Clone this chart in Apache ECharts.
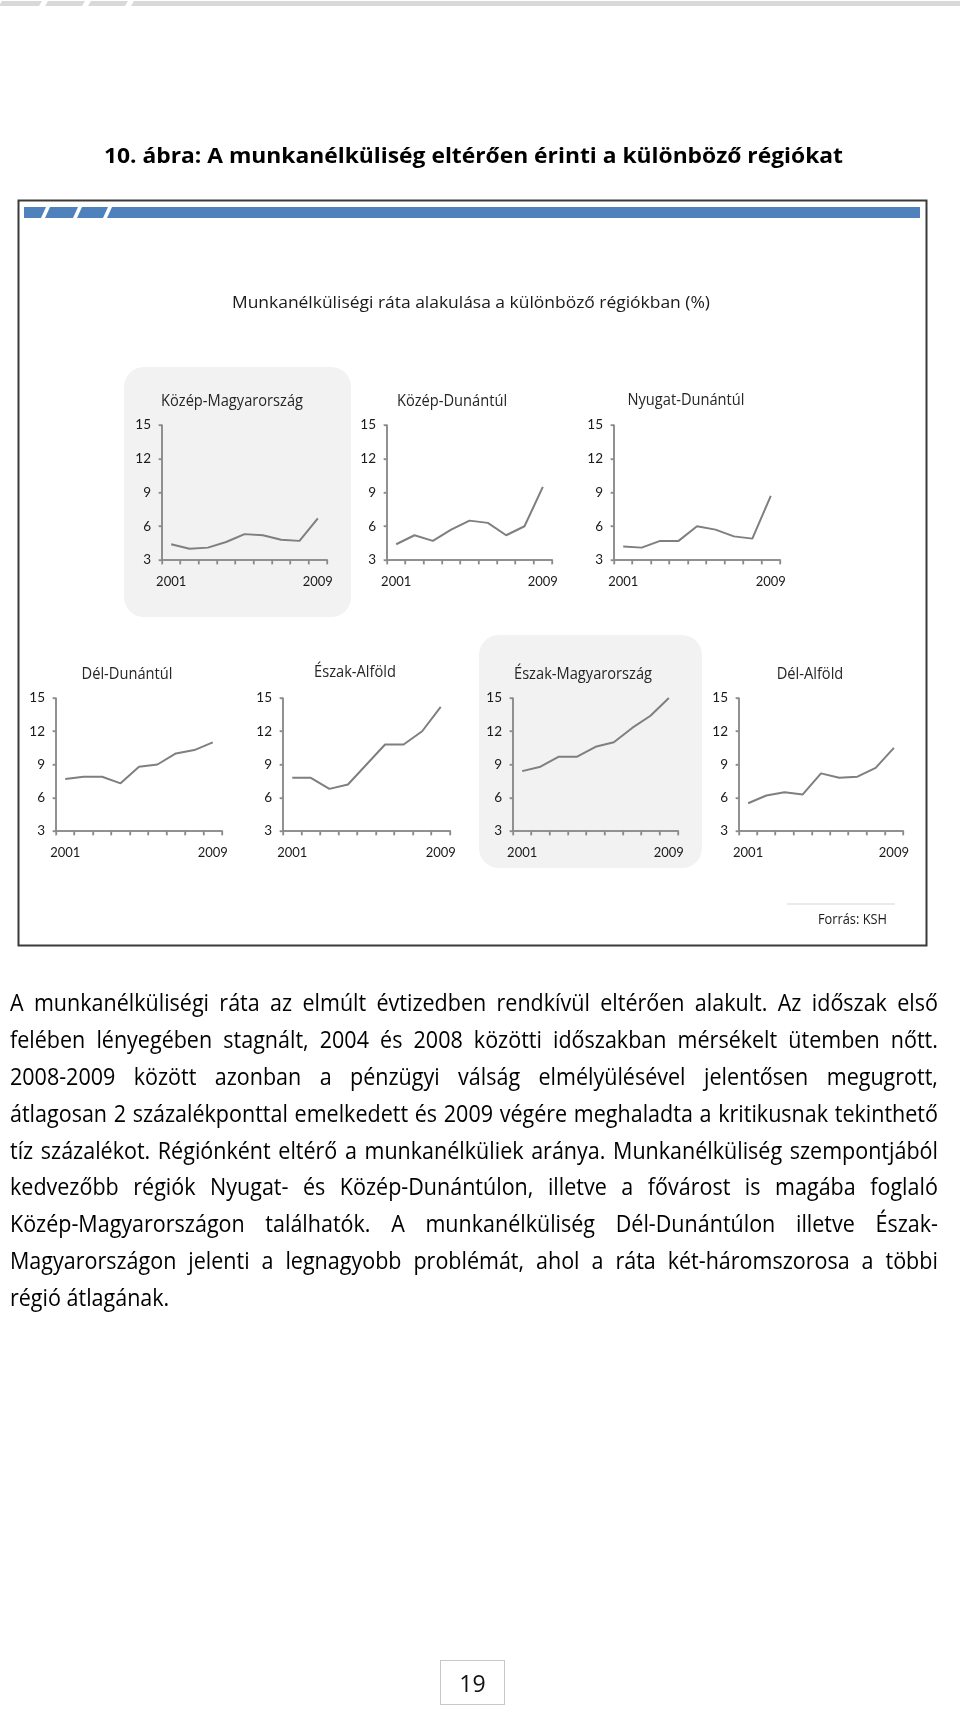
<!DOCTYPE html>
<html><head><meta charset="utf-8">
<script src="https://cdn.jsdelivr.net/npm/echarts@6/dist/echarts.min.js"></script>
<style>
html,body{margin:0;padding:0;background:#fff;}
#page{position:relative;width:960px;height:1712px;overflow:hidden;font-family:"Open Sans",Lato,sans-serif;color:#000;}
#bg,#chart{position:absolute;left:0;top:0;width:960px;height:1712px;}
#bg{z-index:0;} #chart{z-index:1;}
#title{position:absolute;z-index:2;left:104px;top:139px;font-weight:bold;font-size:22px;line-height:30px;color:#000;white-space:nowrap;transform-origin:0 0;}
#para{position:absolute;z-index:2;left:10px;width:928px;top:984px;}
.line{height:36.9px;line-height:36.9px;font-size:24px;white-space:nowrap;color:#000;}
.inner{display:flex;justify-content:space-between;transform-origin:0 0;}
.plain{display:inline-block;transform-origin:0 0;}
#pnum{position:absolute;z-index:2;left:440px;top:1660px;width:63px;height:43px;border:1.5px solid #c8c8c8;text-align:center;line-height:44px;font-size:23px;color:#111;font-family:"Open Sans",sans-serif;}
</style></head>
<body><div id="page">
<div id="bg"></div>
<div id="chart"></div>
<div id="title">10. ábra: A munkanélküliség eltérően érinti a különböző régiókat</div>
<div id="para"></div>
<div id="pnum">19</div>
</div>
<script>
// ---- data ----
const years = ['2001','2002','2003','2004','2005','2006','2007','2008','2009'];
const shownYears = ['2001','2009'];
const regions = ['Közép-Magyarország','Közép-Dunántúl','Nyugat-Dunántúl','Dél-Dunántúl','Észak-Alföld','Észak-Magyarország','Dél-Alföld'];
const kozepMagyarorszag = [4.4, 4.0, 4.1, 4.6, 5.3, 5.2, 4.8, 4.7, 6.7];
const kozepDunantul     = [4.4, 5.2, 4.7, 5.7, 6.5, 6.3, 5.2, 6.0, 9.5];
const nyugatDunantul    = [4.2, 4.1, 4.7, 4.7, 6.0, 5.7, 5.1, 4.9, 8.7];
const delDunantul       = [7.7, 7.9, 7.9, 7.3, 8.8, 9.0, 10.0, 10.3, 11.0];
const eszakAlfold       = [7.8, 7.8, 6.8, 7.2, 9.0, 10.8, 10.8, 12.0, 14.2];
const eszakMagyarorszag = [8.4, 8.8, 9.7, 9.7, 10.6, 11.0, 12.3, 13.4, 15.0];
const delAlfold         = [5.5, 6.2, 6.5, 6.3, 8.2, 7.8, 7.9, 8.7, 10.5];
const yMin = 3, yMax = 15, yStep = 3;
const chartTitle = 'Munkanélküliségi ráta alakulása a különböző régiókban (%)';
const sourceText = 'Forrás: KSH';
const paragraphLines = [
 'A munkanélküliségi ráta az elmúlt évtizedben rendkívül eltérően alakult. Az időszak első',
 'felében lényegében stagnált, 2004 és 2008 közötti időszakban mérsékelt ütemben nőtt.',
 '2008-2009 között azonban a pénzügyi válság elmélyülésével jelentősen megugrott,',
 'átlagosan 2 százalékponttal emelkedett és 2009 végére meghaladta a kritikusnak tekinthető',
 'tíz százalékot. Régiónként eltérő a munkanélküliek aránya. Munkanélküliség szempontjából',
 'kedvezőbb régiók Nyugat- és Közép-Dunántúlon, illetve a fővárost is magába foglaló',
 'Közép-Magyarországon találhatók. A munkanélküliség Dél-Dunántúlon illetve Észak-',
 'Magyarországon jelenti a legnagyobb problémát, ahol a ráta két-háromszorosa a többi',
 'régió átlagának.'
];
const seriesValues = [kozepMagyarorszag, kozepDunantul, nyugatDunantul, delDunantul, eszakAlfold, eszakMagyarorszag, delAlfold];

// ---- layout ----
const gridBoxes = [[162,425,165,135],[387,425,165,135],[614,425,166,135],
                   [56,698,166,133],[283,698,167,133],[513,698,165,133],[739,698,164,133]];
const titlePos = [[232,401],[452,401],[686,400],[127,674],[355,672],[583,674],[810,674]];
const FONT = '"Open Sans", Lato, sans-serif';
const AXFONT = 'Lato, "Open Sans", sans-serif';
const AXCOLOR = '#8a8a8a';

// page title: squeeze to reference width
const tEl = document.getElementById('title');
const tW = tEl.getBoundingClientRect().width;
tEl.style.transform = 'scaleX(' + (739 / tW) + ')';

// paragraph with horizontal squeeze + justification
const para = document.getElementById('para');
const meas = document.createElement('span');
meas.style.cssText = 'position:absolute;visibility:hidden;white-space:nowrap;font-size:24px;font-family:' + FONT;
document.body.appendChild(meas);
let maxW = 0;
paragraphLines.forEach(ln => { meas.textContent = ln; maxW = Math.max(maxW, meas.getBoundingClientRect().width); });
const k = 926 / (maxW * 1.01);
paragraphLines.forEach((ln, i) => {
  const d = document.createElement('div');
  d.className = 'line';
  const inner = document.createElement('div');
  if (i === paragraphLines.length - 1) {
    inner.className = 'plain';
    inner.textContent = ln;
  } else {
    inner.className = 'inner';
    inner.style.width = (928 / k) + 'px';
    ln.split(' ').forEach(w => { const s = document.createElement('span'); s.textContent = w; inner.appendChild(s); });
  }
  inner.style.transform = 'scaleX(' + k + ')';
  d.appendChild(inner);
  para.appendChild(d);
});

// text measurement for chart texts
const ctx = document.createElement('canvas').getContext('2d');
function textW(t, font) { ctx.font = font; return ctx.measureText(t).width; }
const subK = 478 / textW(chartTitle, '16px ' + FONT);
const panelK = 142 / textW(regions[0], '16px ' + FONT);

// ---- charts ----
const chart = echarts.init(document.getElementById('chart'), null, {renderer:'canvas'});
const grid = [], xAxis = [], yAxis = [], series = [];
gridBoxes.forEach((b, i) => {
  grid.push({left:b[0], top:b[1], width:b[2], height:b[3]});
  xAxis.push({type:'category', gridIndex:i, data:years, boundaryGap:true,
    axisLine:{show:true, onZero:false, lineStyle:{color:AXCOLOR, width:1.5}},
    axisTick:{show:true, interval:0, length:4, lineStyle:{color:AXCOLOR, width:1.3}},
    axisLabel:{interval:0, margin:15, fontSize:13, fontFamily:AXFONT, color:'#1a1a1a',
      formatter: v => shownYears.indexOf(v) >= 0 ? v : ''},
    splitLine:{show:false}});
  yAxis.push({type:'value', gridIndex:i, min:yMin, max:yMax, interval:yStep,
    axisLine:{show:true, onZero:false, lineStyle:{color:AXCOLOR, width:1.5}},
    axisTick:{show:true, length:3, lineStyle:{color:AXCOLOR, width:1.3}},
    axisLabel:{margin:11, fontSize:13.5, fontFamily:AXFONT, color:'#1a1a1a'},
    splitLine:{show:false}});
  series.push({type:'line', name:regions[i], xAxisIndex:i, yAxisIndex:i, data:seriesValues[i],
    symbol:'none', lineStyle:{color:'#7f7f7f', width:2}, silent:true, animation:false, z:5});
});

const graphics = [];
graphics.push({type:'text', x:471, y:303, scaleX:subK, style:{text:chartTitle, align:'center', verticalAlign:'middle', font:'16px ' + FONT, fill:'#1a1a1a'}});
regions.forEach((r, i) => {
  graphics.push({type:'text', x:titlePos[i][0], y:titlePos[i][1], scaleX:panelK, style:{text:r, align:'center', verticalAlign:'middle', font:'16px ' + FONT, fill:'#262626'}});
});
graphics.push({type:'text', x:887, y:920, scaleX:panelK, style:{text:sourceText, align:'right', verticalAlign:'middle', font:'14px ' + FONT, fill:'#1a1a1a'}});

chart.setOption({animation:false, backgroundColor:'transparent', grid, xAxis, yAxis, series, graphic:{elements:graphics}});

// ---- background layer: decorations + axis frames located through the chart's own scales ----
const bgEls = [];
[[0,40],[46,83],[89,126],[132,962]].forEach(s => {
  bgEls.push({type:'polygon', shape:{points:[[s[0]+2,1],[s[1]+2,1],[s[1]-1,6],[s[0]-1,6]]}, style:{fill:'#d9d9d9'}});
});
bgEls.push({type:'rect', shape:{x:18.5, y:200.5, width:908, height:745}, style:{fill:null, stroke:'#3a3a3a', lineWidth:2}});
[[24,46,24,41],[50,78,45,73],[82,108,77,103],[112,920,107,920]].forEach(s => {
  bgEls.push({type:'polygon', shape:{points:[[s[0],207],[s[1],207],[s[3],218],[s[2],218]]}, style:{fill:'#4f81bd'}});
});
bgEls.push({type:'rect', shape:{x:124, y:367, width:227, height:250, r:20}, style:{fill:'#f2f2f2'}});
bgEls.push({type:'rect', shape:{x:479, y:635, width:223, height:233, r:20}, style:{fill:'#f2f2f2'}});
bgEls.push({type:'line', shape:{x1:787, y1:904, x2:895, y2:904}, style:{stroke:'#e3e3e3', lineWidth:1.5}});

gridBoxes.forEach((b, i) => {
  const c0 = chart.convertToPixel({gridIndex:i}, [0, yMin]);
  const c1 = chart.convertToPixel({gridIndex:i}, [1, yMin]);
  const cT = chart.convertToPixel({gridIndex:i}, [0, yMax]);
  if (!c0 || !c1 || !cT) return;
  const bw = c1[0] - c0[0];
  const left = Math.round(c0[0] - bw / 2);
  const bottom = Math.round(c0[1]);
  const top = Math.round(cT[1]);
  const right = Math.round(c0[0] - bw / 2 + bw * years.length);
  const st = {fill: AXCOLOR};
  bgEls.push({type:'rect', shape:{x:left - 0.75, y:top, width:1.5, height:bottom - top + 0.75}, style:st});
  bgEls.push({type:'rect', shape:{x:left - 0.75, y:bottom - 0.75, width:right - left + 1.5, height:1.5}, style:st});
  for (let j = 0; j <= years.length; j++) {
    const x = Math.round(c0[0] - bw / 2 + j * bw);
    bgEls.push({type:'rect', shape:{x:x - 0.65, y:bottom, width:1.3, height:4.5}, style:st});
  }
  for (let v = yMin; v <= yMax; v += yStep) {
    const y = Math.round(chart.convertToPixel({gridIndex:i}, [0, v])[1]);
    bgEls.push({type:'rect', shape:{x:left - 3.5, y:y - 0.65, width:3.5, height:1.3}, style:st});
  }
});
const bg = echarts.init(document.getElementById('bg'), null, {renderer:'canvas'});
bg.setOption({animation:false, graphic:{elements:bgEls}});
</script>
</body></html>
